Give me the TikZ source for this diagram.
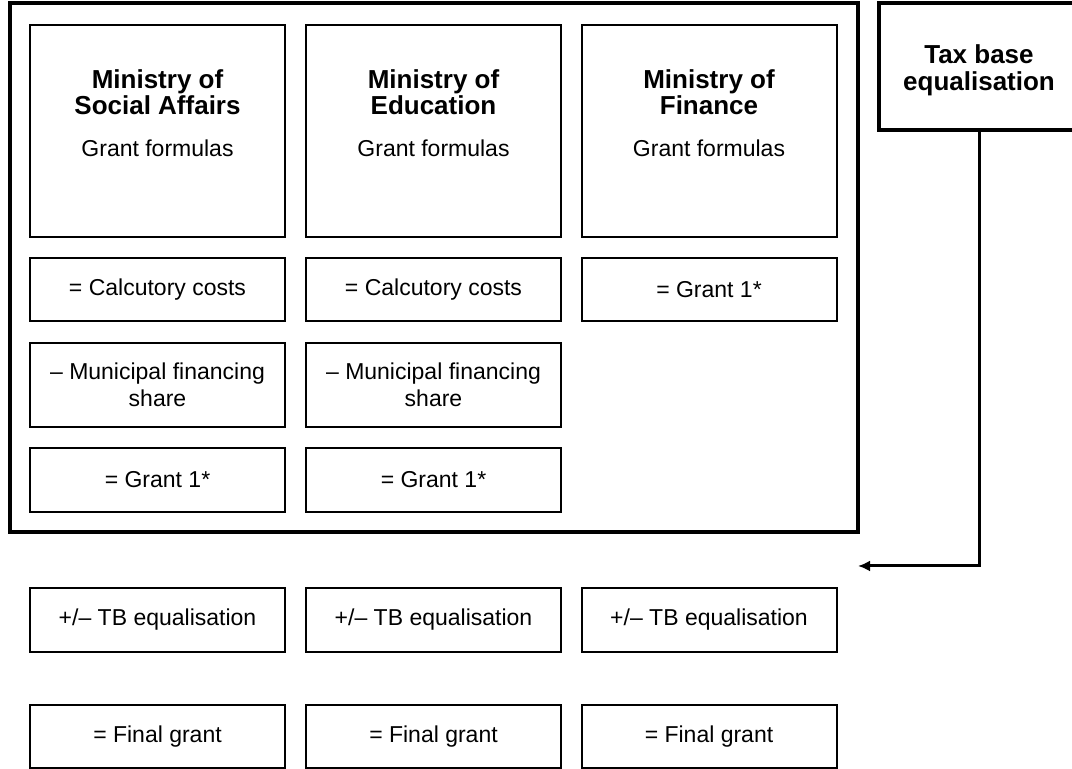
\documentclass[tikz,border=0pt]{standalone}
\usepackage{fontspec}
\setmainfont{Liberation Sans}
\usetikzlibrary{arrows.meta}

\tikzset{
  box/.style={draw, line width=1pt, minimum width=127.5pt, minimum height=32pt,
    inner sep=0pt, align=center, font=\fontsize{11.5}{13.5}\selectfont},
  ministry/.style={box, minimum height=106pt},
  title/.style={align=center, inner sep=0pt, font=\bfseries\fontsize{13}{13}\selectfont},
  plain/.style={inner sep=0pt, font=\fontsize{11.5}{13.5}\selectfont},
}

\begin{document}
\begin{tikzpicture}[x=0.5pt, y=-0.5pt]
    \useasboundingbox (0,0) rectangle (1072,769);

    % Centres of the three columns
    \pgfmathsetmacro{\xa}{157.5};
    \pgfmathsetmacro{\xb}{433.5};
    \pgfmathsetmacro{\xc}{709};

    % Frame around the ministries
    \coordinate (NW) at (10,3);
    \coordinate (SE) at (858,532);
    \draw[line width=2pt] (NW) rectangle (SE);

    % Draw the ministries
    \node[ministry] (MS) at (\xa,131) {};
    \node[ministry] (ME) at (\xb,131) {};
    \node[ministry] (MF) at (\xc,131) {};
    \node[title] (MSt) at (\xa,92) {Ministry of\\Social Affairs};
    \node[title] (MEt) at (\xb,92) {Ministry of\\Education};
    \node[title] (MFt) at (\xc,92) {Ministry of\\Finance};
    \node[plain] (MSg) at (\xa,148) {Grant formulas};
    \node[plain] (MEg) at (\xb,148) {Grant formulas};
    \node[plain] (MFg) at (\xc,148) {Grant formulas};

    % Steps inside the frame
    \node[box, minimum height=31.5pt] (C1) at (\xa,289.5) {= Calcutory costs};
    \node[box, minimum height=31.5pt] (C2) at (\xb,289.5) {= Calcutory costs};
    \node[box, minimum height=31.5pt] (G3) at (\xc,289.5) {= Grant 1*};
    \node[box, minimum height=42pt] (S1) at (\xa,385) {-- Municipal financing\\share};
    \node[box, minimum height=42pt] (S2) at (\xb,385) {-- Municipal financing\\share};
    \node[box] (G1) at (\xa,480) {= Grant 1*};
    \node[box] (G2) at (\xb,480) {= Grant 1*};

    % Steps below the frame
    \node[box] (T1) at (\xa,620) {+/-- TB equalisation};
    \node[box] (T2) at (\xb,620) {+/-- TB equalisation};
    \node[box] (T3) at (\xc,620) {+/-- TB equalisation};
    \node[box, minimum height=31.5pt] (F1) at (\xa,736.5) {= Final grant};
    \node[box, minimum height=31.5pt] (F2) at (\xb,736.5) {= Final grant};
    \node[box, minimum height=31.5pt] (F3) at (\xc,736.5) {= Final grant};

    % Tax base equalisation and its arrow back into the columns
    \node[box, line width=2pt, minimum width=100pt, minimum height=63.5pt] (TB) at (979,66.5) {};
    \node[title, font=\bfseries\fontsize{13}{13.5}\selectfont] (TBt) at (979,70) {Tax base\\equalisation};
    \coordinate (A) at (858,566);
    \draw[line width=1.5pt, -{Latex[length=6pt, width=5.5pt]}] (TB.south) |- (A);
\end{tikzpicture}
\end{document}
